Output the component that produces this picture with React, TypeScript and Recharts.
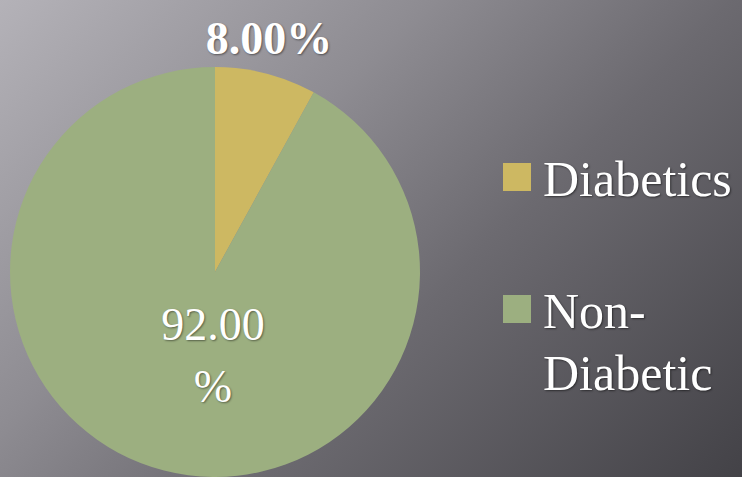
import { PieChart, Pie, Cell, Legend } from 'recharts';

const categories = ['Diabetics', 'Non-Diabetic'];
const shares = [8.0, 92.0];
const colors = ['#CDB862', '#9CAF80'];

const data = categories.map((name, i) => ({ name, value: shares[i] }));

const SERIF = "'Times New Roman', 'Liberation Serif', 'DejaVu Serif', serif";

const textStyle = {
  fill: '#ffffff',
  fontFamily: SERIF,
  fontSize: 46,
  textShadow: '1px 1px 2px rgba(0,0,0,0.45)',
};

const renderLabel = (props: any) => {
  const { cx, cy, midAngle, outerRadius, index, value } = props;
  const RAD = Math.PI / 180;
  if (index === 0) {
    const r = outerRadius + 36;
    const x = cx + r * Math.cos(-midAngle * RAD) - 6;
    const y = cy + r * Math.sin(-midAngle * RAD);
    return (
      <text x={x} y={y} textAnchor="middle" dominantBaseline="central" style={{ ...textStyle, fontWeight: 600 }}>
        {value.toFixed(2)}%
      </text>
    );
  }
  return (
    <text x={cx - 2} y={cy + 52} textAnchor="middle" dominantBaseline="central" style={textStyle}>
      <tspan x={cx - 2}>{value.toFixed(2)}</tspan>
      <tspan x={cx - 2} dy={62}>%</tspan>
    </text>
  );
};

const renderLegend = () => (
  <div style={{ fontFamily: SERIF, fontSize: 50, color: '#fff', lineHeight: '62px' }}>
    {categories.map((c, i) => {
      const parts = c === 'Non-Diabetic' ? ['Non-', 'Diabetic'] : [c];
      return (
        <div key={c} style={{ display: 'flex', alignItems: 'flex-start', marginBottom: i === 0 ? 70 : 0 }}>
          <div style={{ width: 28, height: 28, background: colors[i], marginTop: 15, marginRight: 12, flex: 'none' }} />
          <div style={{ textShadow: '1px 1px 2px rgba(0,0,0,0.5)', whiteSpace: 'nowrap' }}>
            {parts.map((p) => (
              <div key={p}>{p}</div>
            ))}
          </div>
        </div>
      );
    })}
  </div>
);

export default function App() {
  return (
    <div
      style={{
        position: 'fixed',
        left: 0,
        top: 0,
        width: 742,
        height: 477,
        overflow: 'hidden',
        background: 'linear-gradient(135deg, #b4b2b8 0%, #8e8c92 35%, #6c6a70 60%, #434247 100%)',
      }}
    >
      <PieChart width={742} height={477} margin={{ top: 0, right: 0, bottom: 0, left: 0 }}>
        <Pie
          data={data}
          dataKey="value"
          nameKey="name"
          cx={215}
          cy={272}
          outerRadius={205}
          startAngle={90}
          endAngle={-270}
          stroke="none"
          label={renderLabel}
          labelLine={false}
          isAnimationActive={false}
        >
          {data.map((d, i) => (
            <Cell key={d.name} fill={colors[i]} />
          ))}
        </Pie>
        <Legend
          content={renderLegend}
          wrapperStyle={{ position: 'absolute', left: 503, top: 148, width: 240 }}
        />
      </PieChart>
    </div>
  );
}
